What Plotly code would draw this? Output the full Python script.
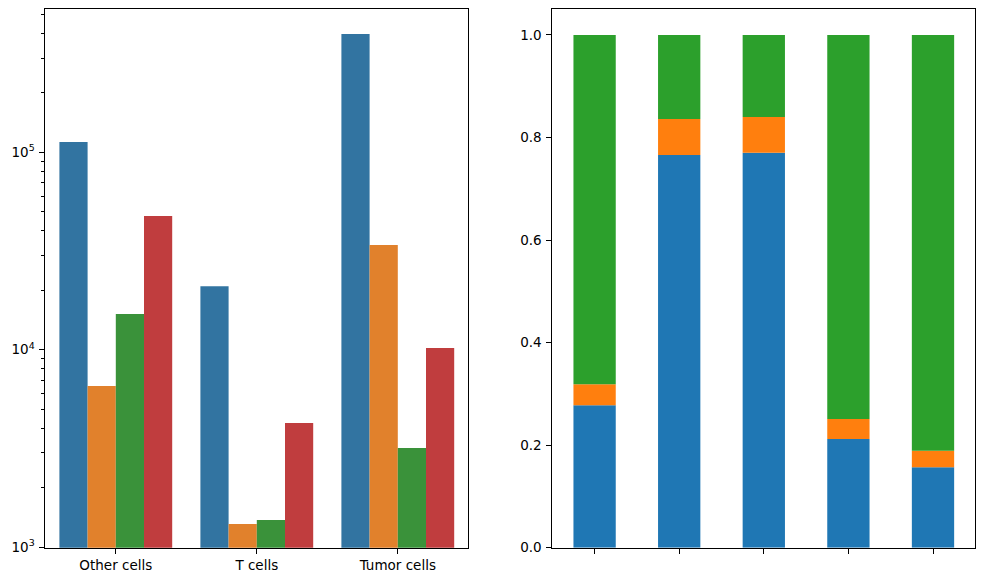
import plotly.graph_objects as go
import numpy as np

# Left panel: cell counts (log scale)
categories = ["Other cells", "T cells", "Tumor cells"]
group_a = [113000, 21000, 398000]
group_b = [6550, 1310, 33950]
group_c = [15170, 1370, 3175]
group_d = [47600, 4250, 10200]
left_colors = ["#3274a1", "#e1812c", "#3a923a", "#c03d3e"]

# Right panel: stacked fractions
samples = [0, 1, 2, 3, 4]
frac_blue = [0.278, 0.766, 0.770, 0.212, 0.157]
frac_orange = [0.041, 0.070, 0.070, 0.039, 0.032]
frac_green = [1 - b - o for b, o in zip(frac_blue, frac_orange)]
right_colors = ["#1f77b4", "#ff7f0e", "#2ca02c"]

fig = go.Figure()

for vals, col in zip([group_a, group_b, group_c, group_d], left_colors):
    fig.add_trace(go.Bar(x=categories, y=vals, marker=dict(color=col, line=dict(width=0)),
                         xaxis="x", yaxis="y", showlegend=False))

base = np.zeros(len(samples))
for vals, col in zip([frac_blue, frac_orange, frac_green], right_colors):
    fig.add_trace(go.Bar(x=samples, y=vals, base=base.tolist(), width=0.5, offset=-0.25,
                         marker=dict(color=col, line=dict(width=0)),
                         xaxis="x2", yaxis="y2", showlegend=False))
    base = base + np.array(vals)

font = dict(family="DejaVu Sans", size=13.5, color="black")
OFF = 8  # page body margin
W, H = 985 - 2 * OFF, 582 - 2 * OFF
top = 1 - (9.3 - OFF) / H
bot = 1 - (547.7 - OFF) / H

axis_common = dict(showline=True, linecolor="black", linewidth=1.1, mirror=True,
                   ticks="outside", ticklen=4.9, tickwidth=1.1, tickcolor="black",
                   showgrid=False, zeroline=False, tickfont=font, automargin=False)

minor_vals = [m * 10 ** e for e in (3, 4, 5) for m in range(2, 10) if m * 10 ** e < 540000]

fig.update_layout(
    template="none",
    width=W, height=H,
    margin=dict(l=0, r=0, t=0, b=0, pad=0),
    paper_bgcolor="white", plot_bgcolor="white",
    barmode="group", bargap=0.2, bargroupgap=0,
    showlegend=False,
    font=font,
    xaxis=dict(domain=[(45.3 - OFF) / W, (468.3 - OFF) / W], anchor="y", range=[-0.5, 2.5], **axis_common),
    yaxis=dict(domain=[bot, top], anchor="x", type="log", range=[2.997, 5.725],
               tickmode="array", tickvals=[1e3, 1e4, 1e5],
               ticktext=["10<sup>3</sup>", "10<sup>4</sup>", "10<sup>5</sup>"],
               ticklabelstandoff=2,
               minor=dict(ticks="outside", ticklen=2.8, tickwidth=0.8, tickcolor="black",
                          tickmode="array", tickvals=minor_vals, showgrid=False),
               **axis_common),
    xaxis2=dict(domain=[(552.3 - OFF) / W, (975.3 - OFF) / W], anchor="y2", range=[-0.5, 4.5],
                tickmode="array", tickvals=samples, showticklabels=False, **axis_common),
    yaxis2=dict(domain=[bot, top], anchor="x2", range=[0, 1.05],
                tickmode="array", tickvals=[0, 0.2, 0.4, 0.6, 0.8, 1.0],
                ticktext=["0.0", "0.2", "0.4", "0.6", "0.8", "1.0"],
                ticklabelstandoff=2, **axis_common),
)

fig.write_html("out.html")
